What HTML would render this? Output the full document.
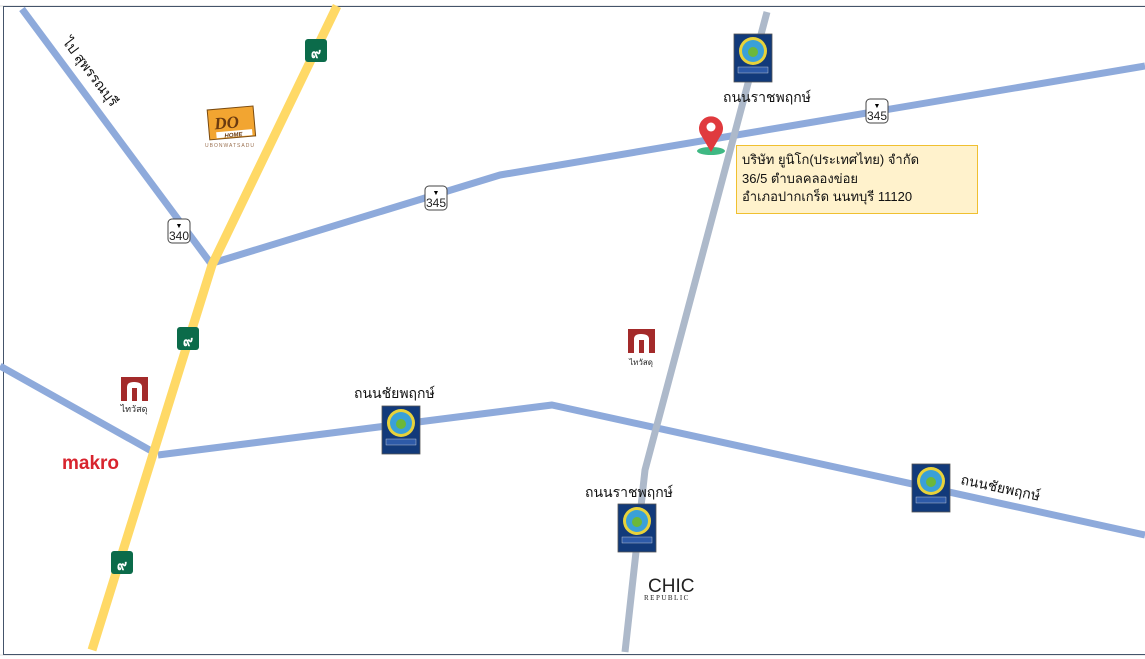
<!DOCTYPE html>
<html><head><meta charset="utf-8"><style>
html,body{margin:0;padding:0;background:#fff;}
svg{display:block;font-family:"Liberation Sans","Noto Sans CJK SC","WenQuanYi Zen Hei",sans-serif;}
</style></head><body>
<svg width="1145" height="659" viewBox="0 0 1145 659" xmlns="http://www.w3.org/2000/svg">
<defs>
<g id="badge">
<rect x="0" y="0" width="38" height="48" fill="#123a7a" stroke="#555" stroke-width="0.8"/>
<circle cx="19" cy="17" r="14" fill="#e8d23a"/>
<circle cx="19" cy="17" r="11" fill="#3aa0d8"/>
<circle cx="19" cy="18" r="5" fill="#6cb83a"/>
<rect x="4" y="33" width="30" height="6" fill="#2d5aa8" stroke="#ddd" stroke-width="0.4"/>
</g>
<g id="shield">
<rect x="0" y="0" width="22" height="24" rx="4" fill="#fff" stroke="#444" stroke-width="1"/>
</g>
<g id="g9">
<rect x="0" y="0" width="22" height="23" rx="3" fill="#0b6b4a"/>
<text x="11" y="19" font-size="14" font-weight="bold" fill="#fff" text-anchor="middle">๙</text>
</g>
<g id="thai">
<rect x="0" y="0" width="27" height="24" fill="#a32a2a"/>
<path d="M6 24 V10 Q6 5 13 5 Q21 5 21 10 V24 H16 V11 H11 V24 Z" fill="#fff"/>
</g>
</defs>
<!-- grid -->
<g stroke="#d9d9d9" stroke-width="1">
<line x1="0" y1="6" x2="1145" y2="6"/>
<line x1="0" y1="655" x2="1145" y2="655"/>
</g>
<rect x="3.5" y="6.5" width="1145" height="648" fill="#fff" stroke="#44546a" stroke-width="1"/>
<!-- roads -->
<g fill="none" stroke-linecap="butt" stroke-linejoin="round">
<polyline points="22,9 212,265" stroke="#8eaadb" stroke-width="7"/>
<polyline points="216,262 500,175 1145,66" stroke="#8eaadb" stroke-width="7"/>
<polyline points="0,366 155,453" stroke="#8eaadb" stroke-width="7"/>
<polyline points="158,455 552,405 1145,535" stroke="#8eaadb" stroke-width="7"/>
<polyline points="767,12 645,470 625,652" stroke="#adb9ca" stroke-width="7"/>
<polyline points="337,6 212,265 92,650" stroke="#ffd966" stroke-width="9"/>
</g>
<!-- shields -->
<use href="#g9" x="305" y="39"/>
<use href="#g9" x="177" y="327"/>
<use href="#g9" x="111" y="551"/>
<use href="#shield" x="168" y="219"/>
<text x="179" y="240" font-size="12" text-anchor="middle" fill="#222">340</text>
<text x="179" y="228" font-size="7" text-anchor="middle">▼</text>
<use href="#shield" x="425" y="186"/>
<text x="436" y="207" font-size="12" text-anchor="middle" fill="#222">345</text>
<text x="436" y="195" font-size="7" text-anchor="middle">▼</text>
<use href="#shield" x="866" y="99"/>
<text x="877" y="120" font-size="12" text-anchor="middle" fill="#222">345</text>
<text x="877" y="108" font-size="7" text-anchor="middle">▼</text>
<!-- badges -->
<use href="#badge" x="734" y="34"/>
<use href="#badge" x="382" y="406"/>
<use href="#badge" x="618" y="504"/>
<use href="#badge" x="912" y="464"/>
<!-- labels -->
<text x="0" y="0" font-size="14" fill="#111" transform="translate(62,42) rotate(53)">ไป สุพรรณบุรี</text>
<text x="723" y="102" font-size="14" fill="#111">ถนนราชพฤกษ์</text>
<text x="354" y="398" font-size="14" fill="#111">ถนนชัยพฤกษ์</text>
<text x="585" y="497" font-size="14" fill="#111">ถนนราชพฤกษ์</text>
<text x="0" y="0" font-size="14" fill="#111" transform="translate(960,484) rotate(12)">ถนนชัยพฤกษ์</text>
<!-- DO home -->
<g transform="translate(207,108) rotate(-5)">
<rect x="0" y="2" width="46" height="30" fill="#f2a531" stroke="#7a4a10" stroke-width="1"/>
<text x="6" y="22" font-size="17" font-weight="bold" font-style="italic" fill="#6a3a10" font-family="Liberation Serif,serif">DO</text>
<rect x="7" y="25" width="36" height="6" fill="#fff"/>
<text x="24" y="31" font-size="6" font-style="italic" font-weight="bold" fill="#6a3a10" text-anchor="middle">HOME</text>
</g>
<text x="230" y="147" font-size="5" fill="#9a7050" text-anchor="middle" letter-spacing="1">UBONWATSADU</text>
<!-- thai watsadu -->
<use href="#thai" x="121" y="377"/>
<text x="134" y="412" font-size="9" fill="#222" text-anchor="middle">ไทวัสดุ</text>
<use href="#thai" x="628" y="329"/>
<text x="641" y="365" font-size="8" fill="#222" text-anchor="middle">ไทวัสดุ</text>
<!-- makro -->
<text x="62" y="469" font-size="19" font-weight="bold" fill="#d8242e">makro</text>
<!-- chic -->
<text x="648" y="592" font-size="19" fill="#222">CHIC</text>
<text x="644" y="600" font-size="7" fill="#222" letter-spacing="1.5" font-family="Liberation Serif,serif">REPUBLIC</text>
<!-- pin -->
<ellipse cx="711" cy="151" rx="14" ry="4" fill="#3fb883"/>
<path d="M711 152 L701 135 A12 12 0 1 1 721 135 Z" fill="#e03a3e"/>
<circle cx="711" cy="127" r="4.5" fill="#fff"/>
<!-- address -->
<rect x="736.5" y="145.5" width="241" height="68" fill="#fff2cc" stroke="#f0c030" stroke-width="1"/>
<text font-size="13" fill="#111"><tspan x="742" y="164">บริษัท ยูนิโก(ประเทศไทย) จำกัด</tspan><tspan x="742" y="183">36/5 ตำบลคลองข่อย</tspan><tspan x="742" y="201">อำเภอปากเกร็ด นนทบุรี  11120</tspan></text>
</svg>
</body></html>
